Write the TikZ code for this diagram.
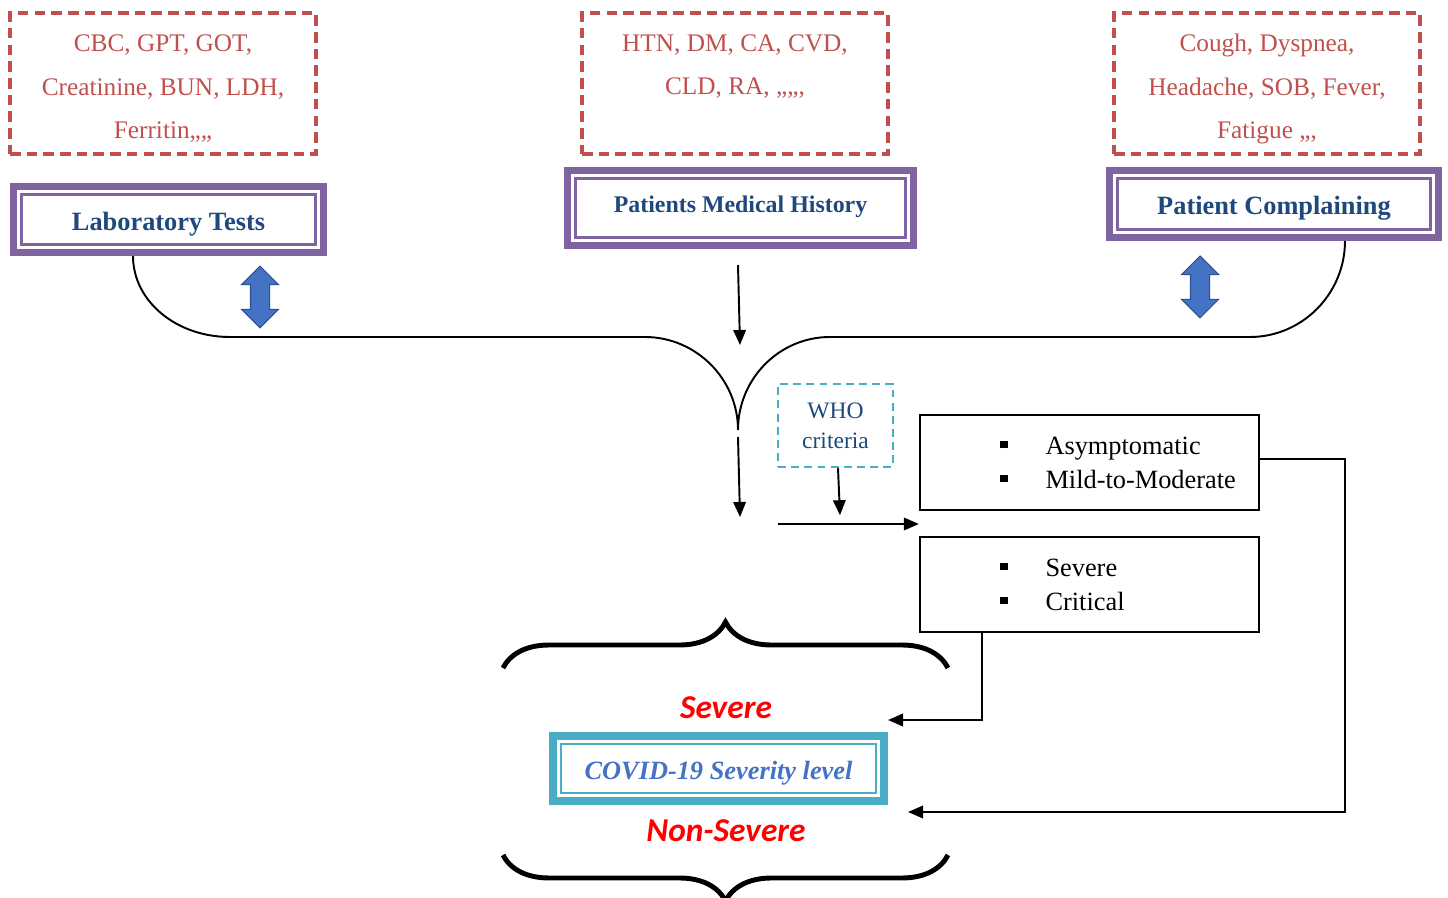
\documentclass[tikz,border=0pt]{standalone}
\usepackage{fontspec}
\setmainfont{Liberation Serif}
\newfontfamily\carlito{Carlito}
\usetikzlibrary{positioning,arrows.meta,shapes.arrows,decorations.pathreplacing}
\definecolor{tkPurple}{RGB}{128,100,162}
\definecolor{tkRed}{RGB}{192,80,77}
\definecolor{tkNavy}{RGB}{31,73,125}
\definecolor{tkTeal}{RGB}{75,172,198}
\definecolor{tkBlue}{RGB}{68,114,196}
\definecolor{tkBlueDark}{RGB}{47,82,143}
\newcommand{\bul}{\hspace*{1.17cm}\raisebox{0.12cm}{\rule{0.15cm}{0.15cm}}\hspace{0.76cm}}

\begin{document}
\begin{tikzpicture}[
  x=0.02cm, y=-0.02cm,
  src/.style={draw=tkRed, line width=1.8pt, dash pattern=on 6pt off 3.5pt, text=tkRed, minimum width=6.12cm, minimum height=2.82cm, inner ysep=0pt, text height=2.51cm, text depth=0.29cm, align=center, font=\fontsize{14.4}{25}\selectfont},
  ttl/.style={draw=tkPurple, line width=4pt, fill=white, text=tkNavy, inner sep=0pt, text height=0.66cm, text depth=0.22cm, font=\bfseries\fontsize{15}{18}\selectfont},
  dbl/.style={double arrow, draw=tkBlueDark, fill=tkBlue, line width=0.6pt, rotate=90, minimum height=1.24cm, minimum width=0.72cm, double arrow head extend=0.18cm, inner xsep=0pt, inner ysep=0.18cm},
  lvl/.style={draw, line width=1.3pt, minimum width=6.78cm, minimum height=1.9cm, text width=5.92cm, align=left, inner sep=0pt, font=\fontsize{15}{19.3}\selectfont},
  cls/.style={text=red, font=\carlito\bfseries\itshape\fontsize{19}{22}\selectfont},
  arr/.style={-{Triangle[length=0.3cm, width=0.25cm]}, line width=1.1pt},
]
\useasboundingbox (0,0) rectangle (1448,898);
% sources
\node[src] (labList) at (163,83.5) {CBC, GPT, GOT,\\Creatinine, BUN, LDH,\\Ferritin,,,,};
\node[src, text height=1.63cm, text depth=1.17cm] (histList) at (735,83.5) {HTN, DM, CA, CVD,\\CLD, RA, ,,,,,};
\node[src] (compList) at (1267,83.5) {Cough, Dyspnea,\\Headache, SOB, Fever,\\Fatigue ,,,};
\node[ttl, minimum width=6.2cm, minimum height=1.32cm] (lab) at (168.5,219.5) {Laboratory Tests};
\node[ttl, minimum width=6.92cm, minimum height=1.5cm, text height=0.3cm, text depth=0.1cm, font=\bfseries\fontsize{13.6}{16}\selectfont] (hist) at (740.5,208) {Patients Medical History};
\node[ttl, minimum width=6.58cm, minimum height=1.34cm] (comp) at (1274,204) {Patient Complaining};
\foreach \n in {lab,hist,comp}
  \draw[tkPurple, line width=1.2pt] ([shift={(0.23cm,-0.23cm)}]\n.north west) rectangle ([shift={(-0.23cm,0.23cm)}]\n.south east);
\node[dbl] (labArr) at (260,297) {};
\node[dbl] (compArr) at (1200,287) {};
% merging
\coordinate (merge) at (738,430);
\coordinate (split) at (778,524);
\draw[line width=1.1pt] ([xshift=-0.71cm]lab.south) .. controls +(0,45) and +(-54,0) .. (230,337) -- (645,337) .. controls +(51,0) and +(0,-51) .. (merge);
\draw[line width=1.1pt] ([xshift=1.42cm]comp.south) .. controls +(0,53) and +(52,0) .. (1250,337) -- (830,337) .. controls +(-51,0) and +(0,-51) .. (merge);
\draw[arr] ([xshift=-0.05cm,yshift=-0.32cm]hist.south) -- ++(2,80);
\draw[arr] ([yshift=-0.14cm]merge) -- ++(2,80);
% WHO
\node[draw=tkTeal, line width=1.4pt, dash pattern=on 4.5pt off 3pt, text=tkNavy, minimum width=2.3cm, minimum height=1.66cm, align=center, font=\fontsize{13.4}{17}\selectfont] (who) at (835.5,425.5) {WHO\\criteria};
\draw[arr] ([xshift=0.05cm]who.south) -- ++(2,47);
% levels
\node[lvl] (box1) at (1089.5,462.5) {\bul Asymptomatic\\\bul Mild-to-Moderate};
\node[lvl] (box2) at (1089.5,584.5) {\bul Severe\\\bul Critical};
\draw[arr] (split) -- (box1.south west |- split);
% result
\node[draw=tkTeal, line width=4.5pt, fill=white, text=tkBlue, minimum width=6.62cm, minimum height=1.3cm, inner sep=0pt, text height=0.66cm, text depth=0.22cm, font=\bfseries\itshape\fontsize{15}{18}\selectfont] (covid) at (718.5,768.5) {COVID-19 Severity level};
\draw[tkTeal, line width=1.3pt] ([shift={(0.24cm,-0.24cm)}]covid.north west) rectangle ([shift={(-0.24cm,0.24cm)}]covid.south east);
\node[cls] (sev) at (726,708) {Severe};
\node[cls] (nonsev) at (726,831) {Non-Severe};
\coordinate (sevIn) at (888,720);
\coordinate (nonIn) at (908,812);
\draw[arr] ([xshift=1.26cm]box2.south west) |- (sevIn);
\draw[arr] ([yshift=0.07cm]box1.east) -| (1345,812) -- (nonIn);
% braces
\draw[line width=2.8pt, decorate, decoration={brace, amplitude=0.92cm}] (503,668) -- (948,668);
\draw[line width=2.8pt, decorate, decoration={brace, amplitude=0.92cm}] (948,855) -- (503,855);
\end{tikzpicture}
\end{document}
